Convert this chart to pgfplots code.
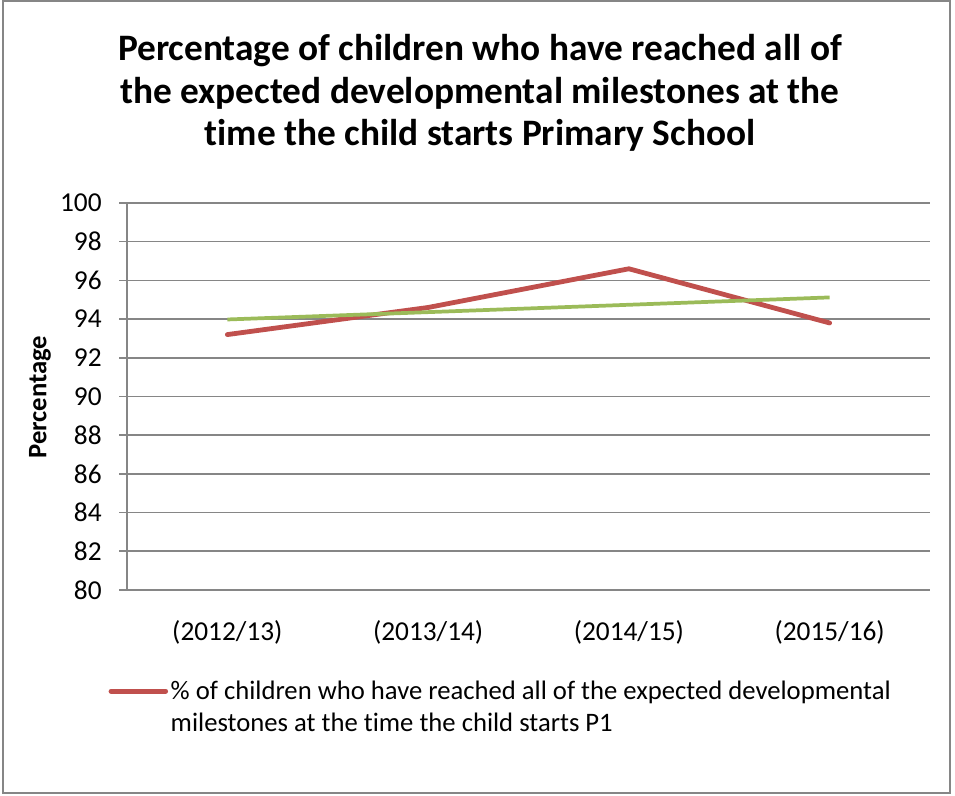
\documentclass[border=0pt]{standalone}
\usepackage{pgfplots}
\pgfplotsset{compat=1.18}
\usepackage{fontspec}
\setmainfont{Carlito}[Ligatures={NoCommon}]
\definecolor{exred}{HTML}{C0504D}
\definecolor{exgreen}{HTML}{9BBB59}
\definecolor{exgrid}{HTML}{868686}
\begin{document}
\begin{tikzpicture}[x=1pt,y=1pt]
\path (0,0) rectangle (716.25,596.25);
\draw[exgrid, line width=0.9pt] (2.25,1.5) rectangle (712.5,595.5);
\node[font=\fontsize{28}{31.8}\selectfont\bfseries, align=center] at (360,526.5)
  {Percentage of children who have reached all of\\the expected developmental milestones at the\\time the child starts Primary School};
\node[font=\fontsize{20}{24}\selectfont\bfseries, rotate=90] at (30,298.5) {Percentage};
\begin{axis}[
  at={(95.25pt,153.75pt)}, anchor=south west,
  width=602.25pt, height=290.25pt, scale only axis,
  xmin=-0.5, xmax=3.5, ymin=80, ymax=100,
  ytick={80,82,...,100},
  xtick={0,1,2,3},
  xticklabels={(2012/13),(2013/14),(2014/15),(2015/16)},
  x tick style={draw=none},
  extra x ticks={-0.5,0.5,1.5,2.5,3.5},
  extra x tick labels={},
  extra x tick style={tick style={draw=exgrid, line width=1.2pt}, major tick length=6pt},
  tick align=outside,
  major tick length=6pt,
  y tick style={draw=exgrid, line width=1.2pt},
  ymajorgrids,
  grid style={exgrid, line width=1.2pt},
  axis x line*=bottom, axis y line*=left,
  axis line style={exgrid, line width=1.2pt, -},
  ticklabel style={font=\fontsize{20.5}{24}\selectfont},
  /pgf/number format/assume math mode=true,
  yticklabel style={xshift=-9.5pt},
  xticklabel style={yshift=-13pt},
  legend style={at={(-14pt,-66pt)}, anchor=north west, draw=none, fill=none,
    font=\fontsize{20}{24}\selectfont, inner sep=0pt, row sep=0pt},
  legend cell align=left,
  legend image code/.code={\draw[#1] (0pt,0pt) -- (41pt,0pt);},
]
\addplot[exred, line width=3.6pt, line cap=round, line join=round] coordinates {
  (0,93.2) (1,94.6) (2,96.6) (3,93.8)};
\addlegendentry{\parbox[t]{560pt}{\% of children who have reached all of the expected developmental\\milestones at the time the child starts P1}}
\addplot[exgreen, line width=2.8pt, forget plot] coordinates {
  (0,93.98) (1,94.36) (2,94.74) (3,95.12)};
\end{axis}
\end{tikzpicture}
\end{document}
